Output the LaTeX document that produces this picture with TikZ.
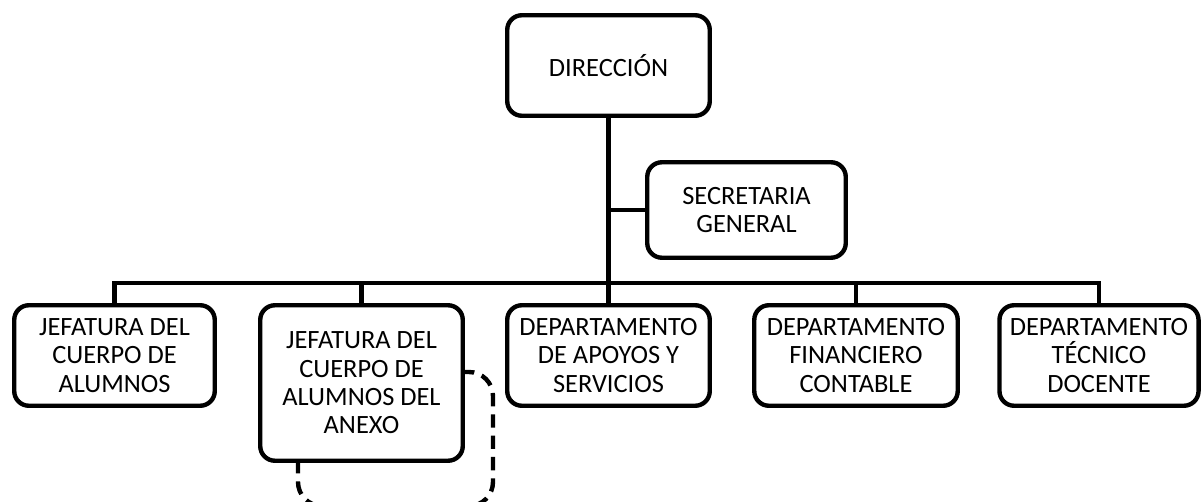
\documentclass[tikz,border=0pt]{standalone}
\usepackage{fontspec}
\setmainfont{Carlito}
\usetikzlibrary{backgrounds}
\begin{document}
\begin{tikzpicture}[x=0.75pt,y=-0.75pt,
  box/.style={draw, line width=3.3pt, rounded corners=11pt, fill=white, align=center,
    font=\fontsize{19.8}{21.2}\selectfont, inner sep=0pt},
  conn/.style={line width=3.3pt, line join=miter},
  dashbox/.style={line width=3.3pt, dash pattern=on 10pt off 6pt, rounded corners=18pt}]
\useasboundingbox (0,0) rectangle (1201,502);
\clip (0,0) rectangle (1201,502);
\node[box, minimum width=151.9pt, minimum height=75.4pt] (dir) at (608.5,65.5) {DIRECCIÓN};
\node[box, minimum width=148.9pt, minimum height=71.6pt] (sec) at (746.5,210) {SECRETARIA\\GENERAL};
\node[box, minimum width=150.4pt, minimum height=75.4pt] (j1) at (114.5,355.5) {JEFATURA DEL\\CUERPO DE\\ALUMNOS};
\node[box, minimum width=151.9pt, minimum height=116.6pt] (anexo) at (361.5,383) {JEFATURA DEL\\CUERPO DE\\ALUMNOS DEL\\ANEXO};
\node[box, minimum width=151.9pt, minimum height=75.4pt] (apo) at (608.5,355.5) {DEPARTAMENTO\\DE APOYOS Y\\SERVICIOS};
\node[box, minimum width=152.6pt, minimum height=75.4pt] (fin) at (856,355.5) {DEPARTAMENTO\\FINANCIERO\\CONTABLE};
\node[box, minimum width=149.3pt, minimum height=75.4pt] (tec) at (1099,355.5) {DEPARTAMENTO\\TÉCNICO\\DOCENTE};
\coordinate (bus) at (608.5,283);
\begin{scope}[on background layer]
  \draw[dashbox] (298,372) rectangle (493,506);
\end{scope}
\draw[conn] (dir.south) -- (dir.south |- bus);
\draw[conn] (sec.west) -- (sec.west -| dir.south);
\draw[conn] (j1.north) -- (j1.north |- bus) -- (tec.north |- bus) -- (tec.north);
\draw[conn] (anexo.north) -- (anexo.north |- bus);
\draw[conn] (apo.north) -- (apo.north |- bus);
\draw[conn] (fin.north) -- (fin.north |- bus);
\end{tikzpicture}
\end{document}
